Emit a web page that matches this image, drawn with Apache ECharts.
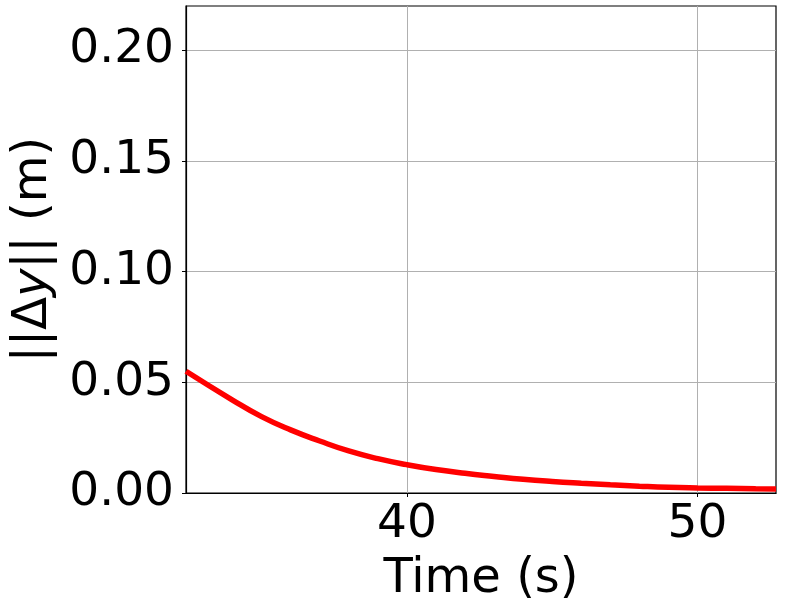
<!DOCTYPE html>
<html>
<head>
<meta charset="utf-8">
<script src="https://cdn.jsdelivr.net/npm/echarts@6/dist/echarts.min.js"></script>
<style>
  html, body { margin: 0; padding: 0; background: #fff; }
  #main { width: 800px; height: 600px; }
</style>
</head>
<body>
<div id="main"></div>
<script>
  // values
  var times = [32.4, 34, 35, 36, 37, 38, 39, 40, 41, 42, 43, 44, 45, 46, 47, 48, 49, 50, 51, 52, 52.7];
  var dy = [0.055, 0.042, 0.0345, 0.0285, 0.0235, 0.019, 0.0155, 0.0128, 0.0106, 0.0089, 0.0075,
            0.0062, 0.0052, 0.0044, 0.0037, 0.0031, 0.0026, 0.0023, 0.0021, 0.0019, 0.0018];
  var xTicks = [40, 50];
  var yTicks = [0, 0.05, 0.10, 0.15, 0.20];

  var font = 'DejaVu Sans';
  var points = times.map(function (t, i) { return [t, dy[i]]; });

  var myChart = echarts.init(document.getElementById('main'));
  var option = {
    animation: false,
    grid: {
      left: 186, right: 24, top: 6, bottom: 107,
      outerBoundsMode: 'none',
      containLabel: false,
      show: true, borderColor: '#000', borderWidth: 1.2
    },
    xAxis: {
      type: 'value',
      min: 32.4,
      max: 52.7,
      name: 'Time (s)',
      nameLocation: 'middle',
      nameGap: 63,
      nameTextStyle: { fontFamily: font, fontSize: 48, color: '#000' },
      axisLine: { show: true, lineStyle: { color: '#000', width: 1.2 } },
      axisTick: { show: true, length: 4, customValues: xTicks, lineStyle: { color: '#000' } },
      axisLabel: { customValues: xTicks, fontFamily: font, fontSize: 47, color: '#000', margin: 8 },
      splitLine: { show: true, lineStyle: { color: '#b0b0b0', width: 1 } }
    },
    yAxis: {
      type: 'value',
      min: 0,
      max: 0.22,
      name: '||Δ{i|y}|| (m)',
      nameLocation: 'middle',
      nameRotate: 90,
      nameGap: 128,
      nameTextStyle: {
        fontFamily: font, fontSize: 48, color: '#000',
        rich: { i: { fontFamily: font, fontSize: 48, fontStyle: 'italic', color: '#000' } }
      },
      axisLine: { show: true, lineStyle: { color: '#000', width: 1.2 } },
      axisTick: { show: true, length: 4, customValues: yTicks, lineStyle: { color: '#000' } },
      axisLabel: {
        customValues: yTicks, fontFamily: font, fontSize: 47, color: '#000', margin: 12,
        formatter: function (v) { return v.toFixed(2); }
      },
      splitLine: { show: true, lineStyle: { color: '#b0b0b0', width: 1 } }
    },
    series: [{
      type: 'line',
      data: points,
      showSymbol: false,
      smooth: true,
      lineStyle: { color: '#ff0000', width: 5.5 },
      clip: true
    }]
  };
  myChart.setOption(option);
</script>
</body>
</html>
